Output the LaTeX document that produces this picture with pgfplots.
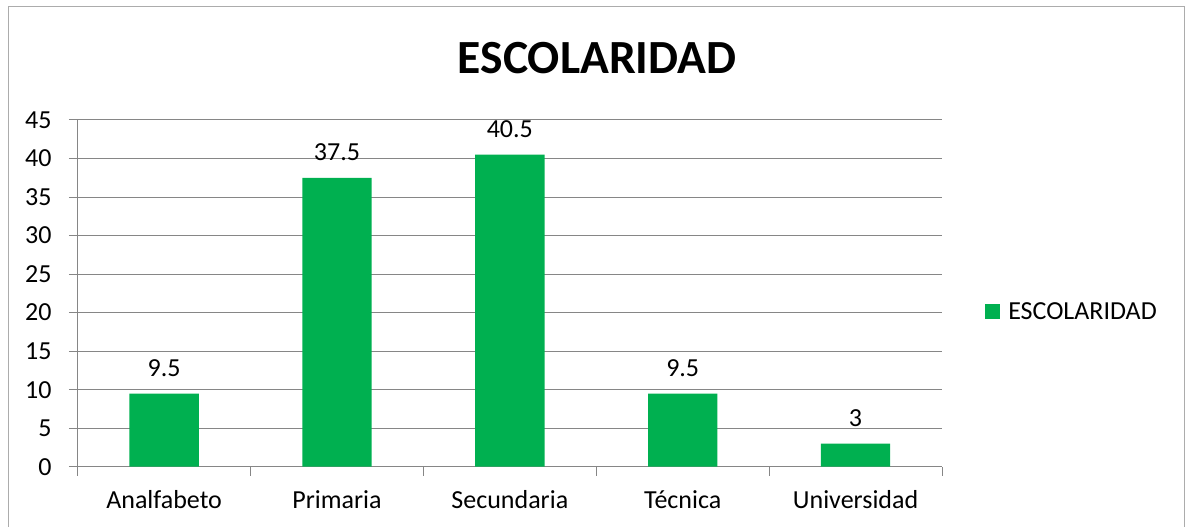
\documentclass[border=0pt]{standalone}
\usepackage{pgfplots}
\pgfplotsset{compat=1.18}
\usepackage{fontspec}
\setmainfont{Carlito}
\definecolor{barg}{HTML}{00B050}
\definecolor{gridg}{HTML}{868686}
\newcommand{\lblfont}{\fontsize{26}{30}\selectfont}
\begin{document}
\begin{tikzpicture}[x=1pt,y=1pt]
\useasboundingbox (0,0) rectangle (1186,527);
\draw[color=gray!65, line width=1pt] (8,520) rectangle (1184,-20);
\node[font=\fontsize{47.6}{50}\selectfont\bfseries, anchor=base, inner sep=0pt] at (597,453.7) {ESCOLARIDAD};
\begin{axis}[
  at={(77.7pt,60.3pt)}, anchor=south west,
  scale only axis, width=864.3pt, height=346.7pt,
  /pgf/number format/assume math mode=true,
  ymin=0, ymax=45, ytick={0,5,...,45},
  xmin=-0.5, xmax=4.5, xtick={0,1,2,3,4},
  xticklabels={Analfabeto,Primaria,Secundaria,Técnica,Universidad},
  minor xtick={-0.5,0.5,1.5,2.5,3.5,4.5},
  axis lines=left, axis line style={-, draw=gridg, line width=1pt},
  ymajorgrids, grid style={draw=gridg, line width=1pt},
  tick align=outside, major tick length=8.7pt, minor tick length=9pt,
  tick style={draw=gridg, line width=1pt},
  major x tick style={draw=none},
  tick label style={font=\lblfont, text=black},
  yticklabel style={xshift=-14pt},
  xticklabel style={yshift=-12pt},
  ybar, bar width=69.3pt,
  nodes near coords,
  nodes near coords style={font=\lblfont, anchor=base, yshift=17.5pt, text=black},
  legend style={at={(1.0498,0.4477)}, anchor=west, draw=none, fill=none, font=\lblfont, inner sep=0pt, column sep=6pt},
  legend image code/.code={\fill[barg] (0pt,-7.5pt) rectangle (15pt,7.5pt);},
]
\addplot[fill=barg, draw=none] coordinates {(0,9.5) (1,37.5) (2,40.5) (3,9.5) (4,3)};
\addlegendentry{ESCOLARIDAD}
\end{axis}
\end{tikzpicture}
\end{document}
